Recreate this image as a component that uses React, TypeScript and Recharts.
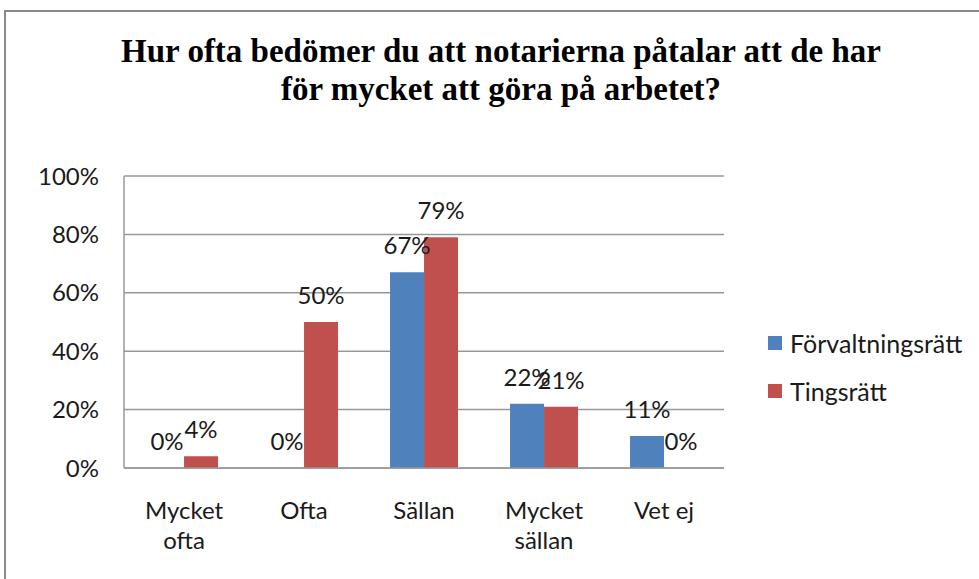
import React from "react"
import { Bar, BarChart, CartesianGrid, LabelList, XAxis, YAxis } from "recharts"

const categories = ["Mycket ofta", "Ofta", "Sällan", "Mycket sällan", "Vet ej"]
const forvaltningsratt = [0, 0, 67, 22, 11]
const tingsratt = [4, 50, 79, 21, 0]
const yTicks = [0, 20, 40, 60, 80, 100]

const series = [
    { key: "forvaltningsratt", name: "Förvaltningsrätt", color: "#4F81BD" },
    { key: "tingsratt", name: "Tingsrätt", color: "#C0504D" },
]

const data = categories.map((name, i) => ({
    name,
    forvaltningsratt: forvaltningsratt[i],
    tingsratt: tingsratt[i],
}))

const FONT = "Lato, 'Noto Sans', sans-serif"
const TEXT = "#1a1a1a"
const GRID = "#989898"

// Excel wraps the longer category names onto two lines
function CategoryTick(props: any) {
    const { x, y, payload } = props
    const label: string = payload.value
    const lines = label.length > 8 ? label.split(" ") : [label]
    return (
        <text x={x} y={y + 26} textAnchor="middle" fontSize={24} fontFamily={FONT} fill={TEXT}>
            {lines.map((line, i) => (
                <tspan key={i} x={x} dy={i === 0 ? "0.71em" : 30}>
                    {line}
                </tspan>
            ))}
        </text>
    )
}

function LegendBox() {
    return (
        <div style={{ position: "absolute", left: 768, top: 319, fontFamily: FONT, fontSize: 25, color: TEXT }}>
            {series.map((s) => (
                <div key={s.key} style={{ display: "flex", alignItems: "center", height: 48 }}>
                    <span style={{ width: 14, height: 14, background: s.color, marginRight: 8 }}></span>
                    <span>{s.name}</span>
                </div>
            ))}
        </div>
    )
}

export default function App() {
    return (
        <div style={{ position: "absolute", left: 0, top: 0, width: 979, height: 579, overflow: "hidden", background: "#fff" }}>
            <div style={{ position: "absolute", left: 4, top: 10, width: 1100, height: 700, border: "2px solid #8a8a8a" }} />
            <div
                style={{
                    position: "absolute",
                    left: 0,
                    width: 1002,
                    top: 32,
                    textAlign: "center",
                    fontFamily: "'Liberation Serif', serif",
                    fontWeight: "bold",
                    fontSize: 33,
                    lineHeight: "38px",
                    color: "#000",
                }}
            >
                Hur ofta bedömer du att notarierna påtalar att de har
                <br />
                för mycket att göra på arbetet?
            </div>
            <BarChart
                width={979}
                height={579}
                data={data}
                margin={{ top: 176, right: 255, bottom: 0, left: 0 }}
                barGap={0}
                barCategoryGap="21.7%"
                style={{ position: "absolute", left: 0, top: 0 }}
            >
                <CartesianGrid vertical={false} stroke={GRID} strokeWidth={1.5} />
                <XAxis
                    dataKey="name"
                    height={111}
                    interval={0}
                    tickLine={false}
                    axisLine={{ stroke: GRID, strokeWidth: 1.5 }}
                    tick={<CategoryTick />}
                />
                <YAxis
                    width={124}
                    domain={[0, 100]}
                    ticks={yTicks}
                    tickFormatter={(v) => `${v}%`}
                    tickLine={false}
                    tickMargin={19}
                    axisLine={{ stroke: GRID, strokeWidth: 1.5 }}
                    tick={{ fontSize: 24, fontFamily: FONT, fill: TEXT }}
                />
                {series.map((s) => (
                    <Bar key={s.key} dataKey={s.key} name={s.name} fill={s.color} minPointSize={0.01} isAnimationActive={false}>
                        <LabelList
                            dataKey={s.key}
                            position="top"
                            offset={18}
                            formatter={(v: any) => `${v}%`}
                            style={{ fontSize: 24, fontFamily: FONT, fill: TEXT }}
                        />
                    </Bar>
                ))}
            </BarChart>
            <LegendBox />
        </div>
    )
}
